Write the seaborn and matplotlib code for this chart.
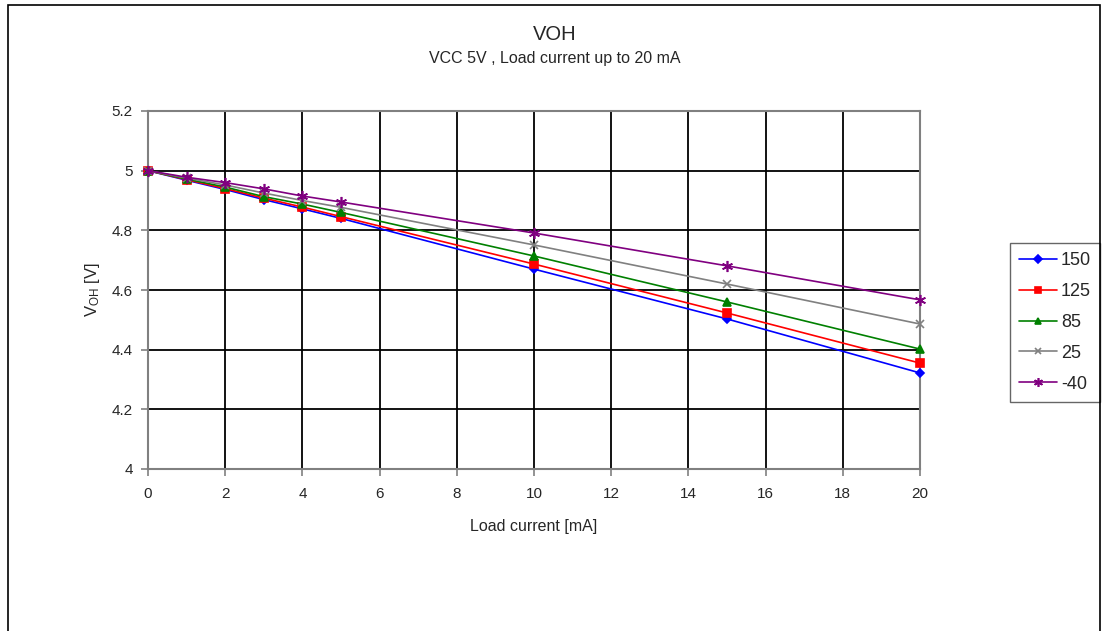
import matplotlib
matplotlib.use("Agg")
import matplotlib.pyplot as plt
import seaborn as sns
import pandas as pd
from matplotlib.patches import Rectangle

current = [0, 1, 2, 3, 4, 5, 10, 15, 20]
v_150 = [5.0, 4.968, 4.937, 4.903, 4.872, 4.840, 4.670, 4.503, 4.322]
v_125 = [5.0, 4.970, 4.940, 4.908, 4.878, 4.846, 4.687, 4.523, 4.355]
v_85 = [5.0, 4.972, 4.945, 4.913, 4.888, 4.860, 4.714, 4.560, 4.402]
v_25 = [5.0, 4.975, 4.952, 4.925, 4.900, 4.877, 4.751, 4.620, 4.486]
v_m40 = [5.0, 4.978, 4.960, 4.939, 4.915, 4.895, 4.791, 4.681, 4.567]
series_names = ["150", "125", "85", "25", "-40"]
x_ticks = [0, 2, 4, 6, 8, 10, 12, 14, 16, 18, 20]
y_ticks = [4, 4.2, 4.4, 4.6, 4.8, 5, 5.2]
y_tick_labels = ["4", "4.2", "4.4", "4.6", "4.8", "5", "5.2"]

series_values = [v_150, v_125, v_85, v_25, v_m40]

sns.set_style("white")
plt.rcParams["font.family"] = ["Liberation Sans", "DejaVu Sans"]

fig = plt.figure(figsize=(11.05, 6.31), dpi=100)
ax = fig.add_axes([148 / 1105, 1 - 469 / 631, (920 - 148) / 1105, (469 - 111) / 631])

palette = {"150": "#0000ff", "125": "#ff0000", "85": "#008000", "25": "#808080", "-40": "#800080"}
markers = {"150": "D", "125": "s", "85": "^", "25": "x", "-40": (6, 2, 0)}
sizes_m = {"150": 4.5, "125": 5.5, "85": 6, "25": 6, "-40": 8}

for name, vals in zip(series_names, series_values):
    d = pd.DataFrame({"current": current, "voltage": vals})
    sns.lineplot(data=d, x="current", y="voltage", color=palette[name],
                 marker=markers[name], markersize=sizes_m[name],
                 markeredgecolor=palette[name], markerfacecolor=palette[name],
                 markeredgewidth=1.2, linewidth=1.2, label=name, ax=ax,
                 clip_on=False, zorder=3)

ax.set_xlim(0, 20)
ax.set_ylim(4, 5.2)
ax.set_xticks(x_ticks)
ax.set_xticklabels([str(t) for t in x_ticks])
ax.set_yticks(y_ticks)
ax.set_yticklabels(y_tick_labels)
ax.grid(True, color="black", linewidth=1.3)
ax.set_axisbelow(True)
for s in ax.spines.values():
    s.set_color("#808080")
    s.set_linewidth(1.5)
    s.set_zorder(2.5)
ax.tick_params(axis="both", direction="out", length=5, width=1.2, color="#808080",
               bottom=True, left=True, labelsize=11)
ax.tick_params(axis="x", pad=8)
ax.tick_params(axis="y", pad=6)

ax.set_xlabel("Load current [mA]", fontsize=11.5)
ax.set_ylabel(r"$\mathregular{V_{OH}}$ [V]", fontsize=12)
ax.xaxis.set_label_coords(0.5, -(526 - 469) / (469 - 111), transform=ax.transAxes)
ax.yaxis.set_label_coords(-(148 - 93) / (920 - 148), 0.5, transform=ax.transAxes)
ax.yaxis.label.set_va("center")
ax.xaxis.label.set_va("center")

fig.text(555 / 1105, 1 - 34 / 631, "VOH", ha="center", va="center", fontsize=14.5)
fig.text(555 / 1105, 1 - 58 / 631, "VCC 5V , Load current up to 20 mA", ha="center", va="center", fontsize=11.5)

leg = ax.legend(title=None, loc="upper left", bbox_to_anchor=(1010 / 1105, 1 - 243 / 631),
                bbox_transform=fig.transFigure, borderaxespad=0, frameon=True, fancybox=False,
                fontsize=13, handlelength=2.1, labelspacing=0.77, borderpad=0.5,
                handletextpad=0.22, markerscale=0.8)
leg.get_frame().set_edgecolor("#404040")
leg.get_frame().set_linewidth(1.0)

fig.patches.append(Rectangle((8 / 1105, -0.1), (1100 - 8) / 1105, 1 - 5 / 631 + 0.1,
                             transform=fig.transFigure, fill=False, edgecolor="black",
                             linewidth=1.2, figure=fig))

fig.savefig("out.png", dpi=100)
